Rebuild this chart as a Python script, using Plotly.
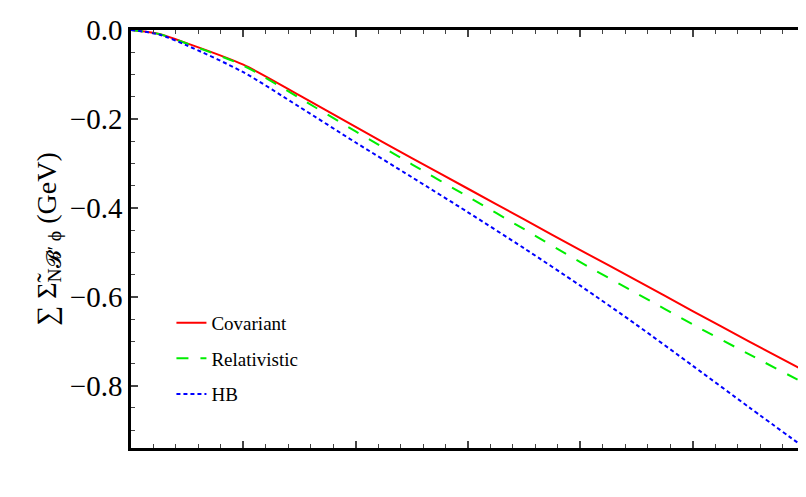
import plotly.graph_objects as go

# x in units of major tick spacing (no labels shown in the original)
x = [0, 0.25, 0.5, 1, 1.5, 2, 2.5, 3, 3.5, 4, 4.5, 5, 5.5, 6]
covariant = [0, -0.009, -0.030, -0.078, -0.147, -0.218, -0.288, -0.357, -0.426, -0.495, -0.563, -0.632, -0.700, -0.767]
relativistic = [0, -0.009, -0.031, -0.080, -0.153, -0.228, -0.302, -0.375, -0.448, -0.522, -0.592, -0.662, -0.729, -0.795]
hb = [0, -0.010, -0.035, -0.095, -0.173, -0.253, -0.331, -0.410, -0.491, -0.575, -0.663, -0.755, -0.848, -0.940]

yticks = [0.0, -0.2, -0.4, -0.6, -0.8]
ylabels = ["0.0", "\u22120.2", "\u22120.4", "\u22120.6", "\u22120.8"]

fig = go.Figure()
series = [("Covariant", covariant, "#ff0000", "solid"),
          ("Relativistic", relativistic, "#00ee00", "12px,12px"),
          ("HB", hb, "#0000ff", "4px,3px")]
for name, ys, col, dash in series:
    fig.add_trace(go.Scatter(x=x, y=ys, mode="lines", name=name, legendgroup=name,
                             line=dict(color=col, width=2, dash=dash, shape="spline", smoothing=0.8)))

font = "Liberation Serif"
fig.update_layout(
    width=806, height=497,
    margin=dict(l=123, r=6, t=20, b=57),
    plot_bgcolor="white", paper_bgcolor="white",
    font=dict(family=font, color="black"),
    showlegend=True,
    legend=dict(x=0.06, y=0.345, xanchor="left", yanchor="top",
                font=dict(family=font, size=19), tracegroupgap=8,
                bgcolor="rgba(0,0,0,0)"),
    xaxis=dict(range=[0, 6], dtick=1, showticklabels=False, showgrid=False, zeroline=False,
               showline=True, linecolor="black", linewidth=2.5, mirror="ticks",
               ticks="inside", ticklen=7, tickwidth=1.5,
               minor=dict(dtick=0.2, ticks="inside", ticklen=4, tickwidth=1.2, showgrid=False)),
    yaxis=dict(range=[-0.94, 0], tickvals=yticks, ticktext=ylabels, showgrid=False, zeroline=False,
               showline=True, linecolor="black", linewidth=2.5, mirror="ticks",
               ticks="inside", ticklen=7, tickwidth=1.5, tickfont=dict(family=font, size=29),
               minor=dict(dtick=0.05, ticks="inside", ticklen=4, tickwidth=1.2, showgrid=False),
               title=dict(text="\u2211 \u03a3\u0303<sub>N\U0001d4d1\u2032 \u03d5</sub> (GeV)",
                          font=dict(family=font, size=28), standoff=6)),
)

fig.write_html("out.html")
